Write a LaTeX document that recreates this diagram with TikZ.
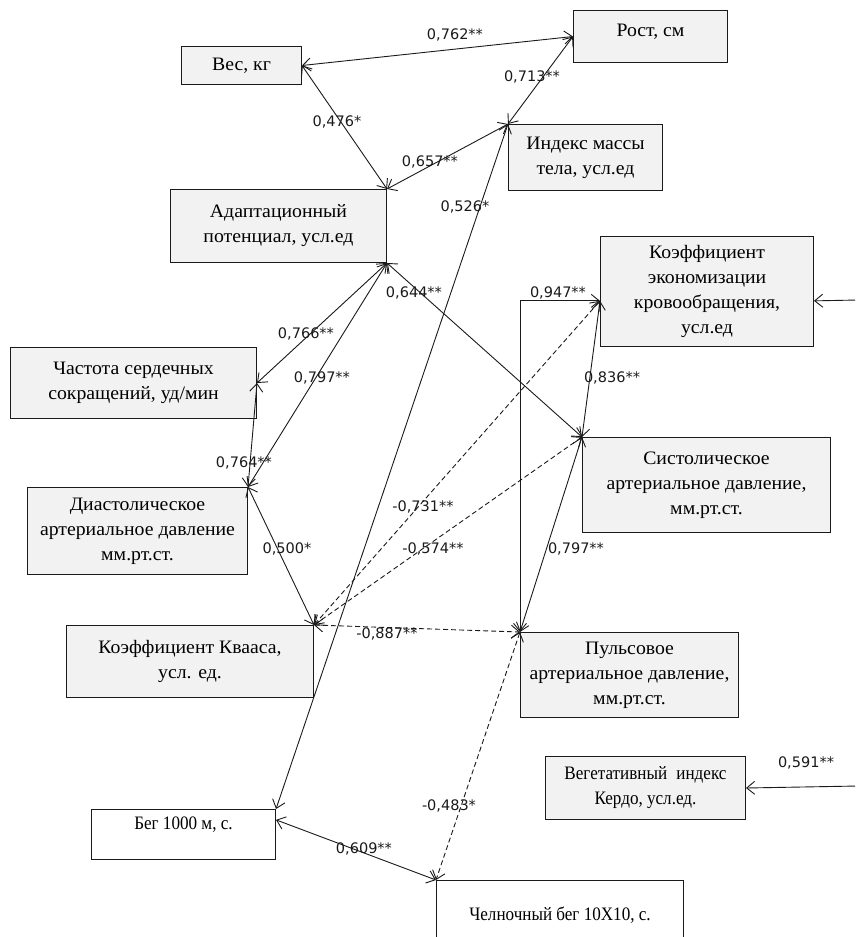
\documentclass[tikz,border=0pt]{standalone}
\usepackage{fontspec}
\setmainfont{Liberation Serif}[FakeStretch=1.04]
\newfontfamily\narrowserif{Liberation Serif}[FakeStretch=0.9]
\newfontfamily\lblfont{DejaVu Sans}
\usetikzlibrary{arrows.meta,calc}
\definecolor{boxfill}{HTML}{F2F2F2}
\definecolor{ink}{HTML}{1A1A1A}
\tikzset{
  >={Straight Barb[length=8pt,width=13pt]},
  box/.style={draw=ink,line width=1pt,fill=boxfill,align=center,inner sep=2pt,anchor=north west,font=\fontsize{19}{25}\selectfont},
  wbox/.style={box,fill=white,font=\fontsize{19}{25}\narrowserif},
  ar/.style={<->,line width=0.9pt,draw=ink},
  ar1/.style={->,line width=0.9pt,draw=ink},
  dar/.style={ar,dash pattern=on 5pt off 3pt},
  lbl/.style={font=\fontsize{14.5}{17}\lblfont,text=ink,inner sep=0pt},
}

\begin{document}
\begin{tikzpicture}[x=1pt,y=-1pt]
\useasboundingbox (0,0) rectangle (855,937);
\clip (0,0) rectangle (855,937);
% boxes
\node[box,minimum width=120pt,minimum height=38pt] (ves) at (181,46) {Вес, кг};
\node[box,minimum width=154pt,minimum height=52pt,text depth=13pt] (rost) at (573,10) {Рост, см};
\node[box,minimum width=154pt,minimum height=66pt] (idx) at (508,124) {Индекс массы\\тела, усл.ед};
\node[box,minimum width=216pt,minimum height=73pt] (adapt) at (170,189) {Адаптационный\\потенциал, усл.ед};
\node[box,minimum width=213pt,minimum height=110pt] (econ) at (600,236) {Коэффициент\\экономизации\\кровообращения,\\усл.ед};
\node[box,minimum width=246pt,minimum height=71pt] (hr) at (10,347) {Частота сердечных\\сокращений, уд/мин};
\node[box,minimum width=248pt,minimum height=95pt] (syst) at (582,437) {Систолическое\\артериальное давление,\\мм.рт.ст.};
\node[box,minimum width=220pt,minimum height=87pt] (diast) at (27,487) {Диастолическое\\артериальное давление\\мм.рт.ст.};
\node[box,minimum width=247pt,minimum height=72pt] (kvaas) at (66,625) {Коэффициент Квааса,\\усл. ед.};
\node[box,minimum width=218pt,minimum height=85pt] (pulse) at (520,632) {Пульсовое\\артериальное давление,\\мм.рт.ст.};
\node[box,font=\fontsize{19}{25}\narrowserif,minimum width=200pt,minimum height=63pt] (veg) at (545,756) {Вегетативный\hspace{5pt} индекс\\Кердо, усл.ед.};
\node[wbox,minimum width=184pt,minimum height=50pt,text depth=22pt] (run) at (91,809) {Бег 1000 м, с.};
\node[wbox,minimum width=247pt,minimum height=70pt] (shuttle) at (436,880) {Челночный бег 10X10, с.};
\coordinate (rimA) at (858,300);
\coordinate (rimB) at (858,786);

% links
\draw[ar] (ves.east) -- (rost.west);
\draw[ar] (ves.east) -- (adapt.north east);
\draw[ar] (rost.west) -- (idx.north west);
\draw[ar] (idx.north west) -- (adapt.north east);
\draw[ar] (idx.north west) -- (run.north east);
\draw[ar] (adapt.south east) -- (hr.east);
\draw[ar] (adapt.south east) -- (diast.north east);
\draw[ar] (adapt.south east) -- (syst.north west);
\draw[ar] (hr.east) -- (diast.north east);
\draw[ar] (diast.north east) -- (kvaas.north east);
\draw[dar] (kvaas.north east) -- (econ.185);
\draw[dar] (kvaas.north east) -- (syst.north west);
\draw[dar] (kvaas.north east) -- (pulse.north west);
\draw[ar] (syst.north west) -- (econ.185);
\draw[ar] (syst.north west) -- (pulse.north west);
\draw[ar] (pulse.north west) |- (econ.185);
\draw[dar] (pulse.north west) -- (shuttle.north west);
\draw[ar] (run.9) -- (shuttle.north west);
\draw[ar1] (rimA) -- (econ.355);
\draw[ar1] (rimB) -- (veg.east);

% coefficients
\node[lbl] (c762) at (455,35) {0,762**};
\node[lbl] (c476) at (337,122) {0,476*};
\node[lbl] (c713) at (532,77) {0,713**};
\node[lbl] (c657) at (430,162) {0,657**};
\node[lbl] (c526) at (465,207) {0,526*};
\node[lbl] (c644) at (414,293) {0,644**};
\node[lbl] (c947) at (558,293) {0,947**};
\node[lbl] (c766) at (306,334) {0,766**};
\node[lbl] (c797a) at (322,378) {0,797**};
\node[lbl] (c836) at (612,378) {0,836**};
\node[lbl] (c764) at (244,463) {0,764**};
\node[lbl] (c731) at (423,507) {-0,731**};
\node[lbl] (c500) at (287,549) {0,500*};
\node[lbl] (c574) at (433,549) {-0,574**};
\node[lbl] (c797b) at (576,549) {0,797**};
\node[lbl] (c887) at (387,634) {-0,887**};
\node[lbl] (c591) at (806,763) {0,591**};
\node[lbl] (c483) at (449,806) {-0,483*};
\node[lbl] (c609) at (364,849) {0,609**};
\end{tikzpicture}
\end{document}
